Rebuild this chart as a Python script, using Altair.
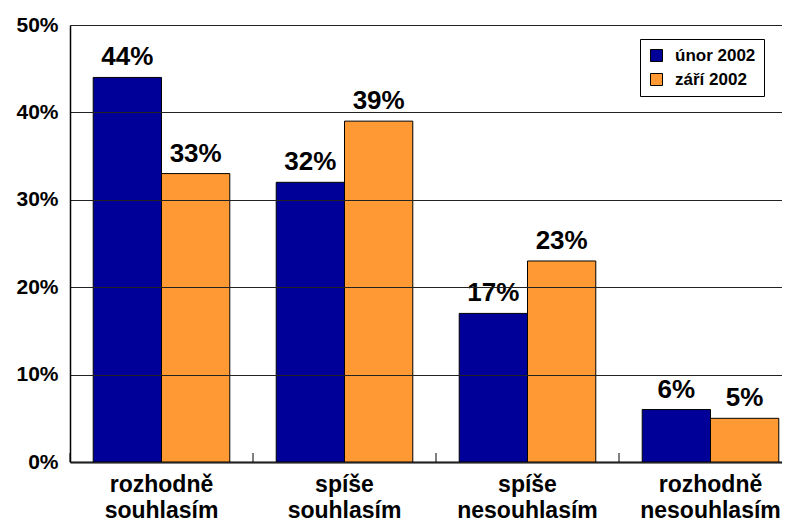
import altair as alt
import pandas as pd

categories = ["rozhodně souhlasím", "spíše souhlasím", "spíše nesouhlasím", "rozhodně nesouhlasím"]
series_names = ["únor 2002", "září 2002"]
unor_2002 = [44, 32, 17, 6]
zari_2002 = [33, 39, 23, 5]
y_ticks = [0, 10, 20, 30, 40, 50]
colors = ["#000099", "#FF9933"]

rows = []
for c, a, b in zip(categories, unor_2002, zari_2002):
    rows.append({"kategorie": c, "obdobi": series_names[0], "hodnota": a})
    rows.append({"kategorie": c, "obdobi": series_names[1], "hodnota": b})
df = pd.DataFrame(rows)
ticks_df = pd.DataFrame({"kategorie": categories})

FONT = "Liberation Sans"
W, H = 712, 437
X_RANGE = 732

x_axis = alt.Axis(
    title=None, labelAngle=0, labelExpr="split(datum.label, ' ')",
    labelFont=FONT, labelFontSize=23, labelFontWeight="bold", labelColor="black",
    labelLineHeight=26, labelPadding=11, labelBaseline="top", ticks=False,
    domainColor="black", domainWidth=2, grid=False,
)
x_scale = alt.Scale(paddingInner=0, paddingOuter=0, range=[0, X_RANGE])

y_enc = alt.Y(
    "hodnota:Q",
    scale=alt.Scale(domain=[0, 50], nice=False),
    axis=alt.Axis(
        title=None, values=y_ticks, labelExpr="datum.value + '%'",
        labelFont=FONT, labelFontSize=21, labelFontWeight="bold", labelColor="black",
        labelPadding=12, ticks=False, domainColor="black", domainWidth=1.5,
        grid=True, gridColor="#222222", gridWidth=1, zindex=1,
    ),
)

base = alt.Chart(df).encode(
    x=alt.X("kategorie:N", sort=categories, scale=x_scale, axis=x_axis),
    xOffset=alt.XOffset("obdobi:N", sort=series_names,
                        scale=alt.Scale(paddingInner=0, paddingOuter=0.34)),
    y=y_enc,
)

bars = base.mark_bar(stroke="black", strokeWidth=1).encode(
    color=alt.Color(
        "obdobi:N", sort=series_names,
        scale=alt.Scale(domain=series_names, range=colors),
        legend=alt.Legend(
            title=None, orient="none", legendX=570, legendY=14, padding=8,
            strokeColor="black", fillColor="white", symbolType="square",
            symbolSize=144, symbolStrokeColor="black", symbolStrokeWidth=1,
            labelFont=FONT, labelFontSize=17, labelFontWeight="bold",
            labelColor="black", rowPadding=6, labelOffset=10,
        ),
    )
)

labels = base.mark_text(
    dy=-12, fontSize=26, fontWeight="bold", font=FONT, color="black",
    baseline="alphabetic", align="center",
).transform_calculate(
    lab="datum.hodnota + '%'"
).encode(text="lab:N")

tick_rules = alt.Chart(ticks_df).mark_rule(color="black", strokeWidth=1).encode(
    x=alt.X("kategorie:N", sort=categories, scale=x_scale, axis=x_axis, bandPosition=0),
    y=alt.value(H - 9),
    y2=alt.value(H),
)

chart = alt.layer(bars, labels, tick_rules).properties(
    width=W, height=H,
    padding={"left": 62, "top": 17, "right": 0, "bottom": 58},
    autosize="none",
    background="white",
).configure_view(stroke=None)

chart.save("out.html", embed_options={"renderer": "svg", "actions": False})
